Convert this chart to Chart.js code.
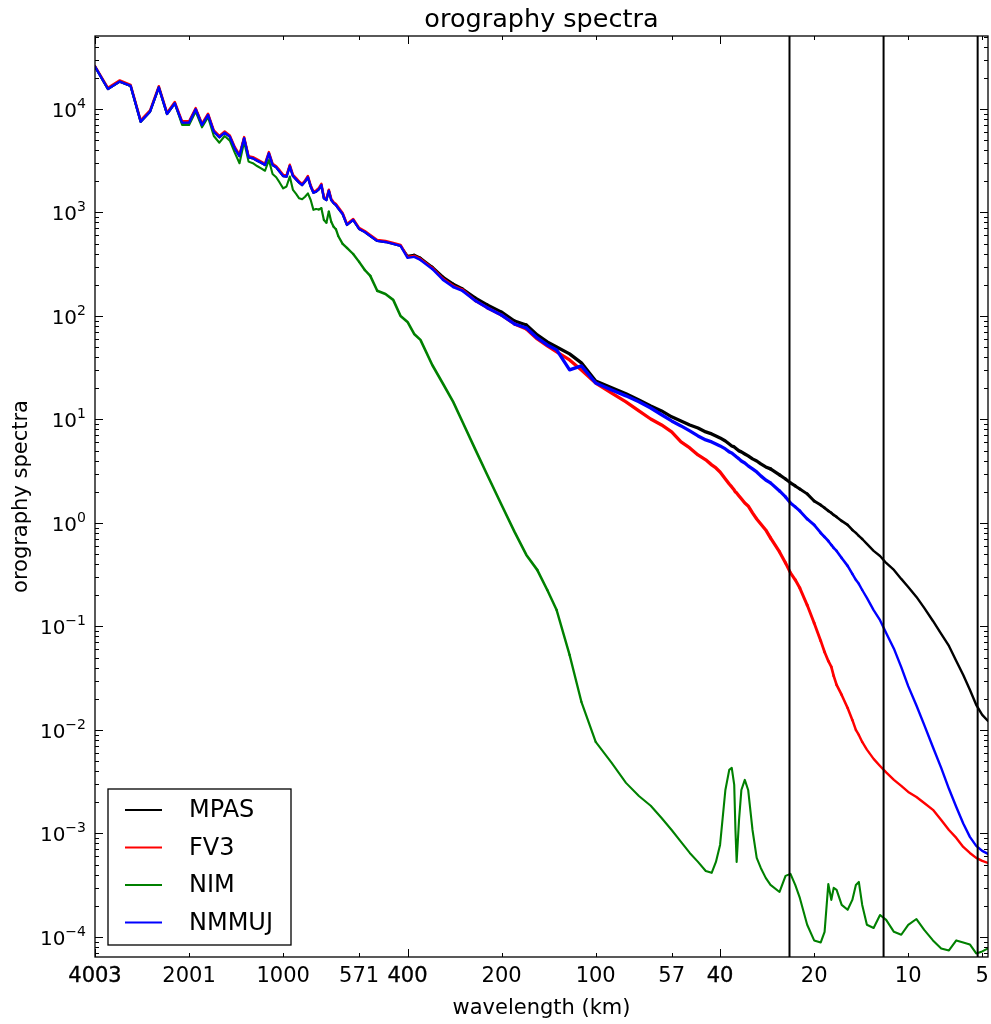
<!DOCTYPE html>
<html>
<head>
<meta charset="utf-8">
<script src="https://cdn.jsdelivr.net/npm/chart.js@4.4.0/dist/chart.umd.min.js"></script>
<style>html,body{margin:0;padding:0;background:#fff;}#c{display:block;}</style>
</head>
<body>
<canvas id="c" width="991" height="1024"></canvas>
<script>
const EARTH_CIRCUMFERENCE_KM = 40030;

const wavenumbers = [
  10,11,12,13,14,15,16,17,18,19,20,21,22,23,24,25,26,27,28,29,30,31,32,33,34,35,36,37,38,39,40,
  41,42,43,44,45,46,47,48,49,50,51,52,53,54,55,56,57,58,59,60,
  62,64,67,70,73,76,80,85,90,95,100,105,110,120,130,140,150,165,180,200,220,240,260,280,300,330,360,
  400,450,500,550,600,650,700,750,800,850,900,940,970,1000,1040,1070,1090,1110,1120,1130,1150,1170,
  1200,1230,1270,1310,1350,1400,1450,1550,1620,1680,1740,1800,1900,2000,2100,2160,2220,2270,2310,
  2360,2450,2560,2650,2720,2780,2850,2950,3100,3250,3400,3600,3800,4000,4250,4500,4800,5100,5400,
  5700,6000,6300,6600,6900,7200
];

const mpas = [
  25600,15600,18400,16700,7540,9420,16200,8950,11350,7380,7380,9940,7000,8750,6040,5330,5900,5400,4170,3510,5210,
  3410,3340,3170,3030,2880,3730,2880,2730,2480,2250,2220,2810,2250,2090,1940,1840,1990,2190,1780,1550,
  1590,1670,1840,1370,1320,1620,1320,1230,1180,1100,
  967,758,847,693,648,593,531,519,497,475,380,389,364,298,238,204,183,149,128,109,89.5,81.9,65.6,56.1,50.2,43.0,35.2,
  23.5,20.2,17.7,15.4,13.5,12.1,10.6,9.67,8.85,8.28,7.58,7.25,6.93,6.63,6.20,5.80,5.55,5.43,5.31,5.19,4.97,4.86,
  4.64,4.44,4.16,3.97,3.72,3.48,3.33,2.91,2.66,2.44,2.28,2.13,1.91,1.63,1.49,1.40,1.31,1.25,1.195,
  1.143,1.046,0.957,0.856,0.801,0.749,0.700,0.627,0.537,0.480,0.411,0.352,0.288,0.241,0.193,0.151,0.113,0.0847,0.0648,
  0.0464,0.0340,0.0244,0.0175,0.0140,0.0122
];

const fv3 = [
  26000,16000,18900,17100,7750,9700,16600,9200,11700,7600,7600,10200,7200,9000,6200,5500,6050,5550,4300,3600,5350,
  3500,3430,3260,3110,2960,3830,2960,2800,2550,2310,2280,2890,2310,2150,1990,1890,2040,2250,1830,1590,
  1630,1720,1890,1410,1360,1660,1360,1260,1210,1130,
  989,775,866,709,663,607,543,531,508,486,372,380,356,291,228,195,179,140,120,102,83.7,74.9,60.0,51.4,44.9,37.6,30.1,
  22.5,18.0,14.8,12.1,10.1,8.85,7.58,6.07,5.31,4.54,4.07,3.64,3.40,3.11,2.66,2.38,2.23,2.08,1.99,1.95,1.825,1.71,
  1.56,1.46,1.25,1.093,0.978,0.856,0.717,0.525,0.411,0.329,0.282,0.235,0.161,0.108,0.0725,0.0567,0.0464,0.0407,0.0333,
  0.0272,0.0218,0.0163,0.0125,0.0100,0.00895,0.00766,0.00645,0.00525,0.00449,0.00389,0.00329,0.00288,0.00252,0.00225,0.00197,0.00169,0.00135,0.00108,
  9.05e-4,7.41e-4,6.48e-4,5.80e-4,5.43e-4,5.19e-4
];

const nim = [
  25600,15600,18400,16700,7540,9420,16200,8950,11350,7000,7000,9420,6650,8320,5480,4720,5480,4940,3790,2990,4830,
  3100,2990,2810,2670,2530,3210,2350,2190,1940,1710,1780,2220,1650,1510,1370,1340,1420,1530,1320,1060,
  1080,1070,1100,847,797,1020,815,729,689,593,
  497,454,397,333,278,244,175,163,143,100,87.6,67.0,58.7,33.6,22.0,14.8,9.46,5.08,2.91,1.49,0.819,0.491,0.352,0.225,0.144,0.0531,0.0187,
  0.00766,0.00480,0.00308,0.00230,0.00185,0.00141,0.00108,8.28e-4,6.48e-4,5.31e-4,4.34e-4,4.16e-4,5.31e-4,7.75e-4,0.00263,0.00411,0.00430,0.00294,0.00108,5.31e-4,0.00135,0.00263,
  0.00329,0.00263,0.00108,5.80e-4,4.64e-4,3.72e-4,3.18e-4,2.72e-4,3.89e-4,4.07e-4,3.18e-4,2.38e-4,1.31e-4,9.26e-5,8.85e-5,1.118e-4,3.25e-4,2.28e-4,2.98e-4,
  2.85e-4,2.04e-4,1.83e-4,2.28e-4,3.18e-4,3.40e-4,2.04e-4,1.31e-4,1.22e-4,1.63e-4,1.46e-4,1.12e-4,1.05e-4,1.31e-4,1.49e-4,1.17e-4,9.26e-5,7.75e-5,7.41e-5,
  9.26e-5,8.85e-5,8.47e-5,6.93e-5,7.25e-5,7.75e-5
];

const nmmuj = [
  25600,15600,18400,16700,7540,9420,16200,8950,11350,7380,7380,9940,7000,8750,6040,5330,5900,5400,4170,3510,5210,
  3410,3340,3170,3030,2880,3730,2880,2730,2480,2250,2220,2810,2250,2090,1940,1840,1990,2190,1780,1550,
  1590,1670,1840,1370,1320,1620,1320,1230,1180,1100,
  967,758,847,693,648,593,531,519,497,475,364,372,348,285,223,191,175,140,120,102,83.7,76.6,61.3,52.5,47.0,30.1,32.9,
  22.5,19.3,16.9,14.8,12.9,11.1,9.67,8.66,7.75,6.93,6.34,6.07,5.80,5.55,5.19,4.86,4.75,4.54,4.44,4.34,4.16,3.97,
  3.80,3.56,3.33,3.11,2.85,2.60,2.44,2.04,1.785,1.56,1.43,1.306,1.093,0.957,0.801,0.733,0.670,0.613,0.574,
  0.537,0.459,0.385,0.322,0.282,0.258,0.225,0.189,0.144,0.115,0.0866,0.061,0.0405,0.0265,0.0172,0.0112,0.0068,0.0043,0.00270,
  0.00180,0.00125,9.26e-4,7.58e-4,6.78e-4,6.34e-4
];

const seriesNames = ['MPAS', 'FV3', 'NIM', 'NMMUJ'];
const seriesColors = ['#000000', '#ff0000', '#008000', '#0000ff'];
const xTickWavenumbers = [10, 20, 40, 70, 100, 200, 400, 700, 1000, 2000, 4000, 6900];
const xTickLabels = ['4003', '2001', '1000', '571', '400', '200', '100', '57', '40', '20', '10', '5'];
const yTickExponents = [-4, -3, -2, -1, 0, 1, 2, 3, 4];
const cutoffWavelengthsKm = [24, 12, 6];
const X_MIN = 10, X_MAX = 7200, Y_MIN = 6.4e-5, Y_MAX = 5.07e4;

const FONT = '"DejaVu Sans", "Liberation Sans", sans-serif';
const seriesValues = [mpas, fv3, nim, nmmuj];

// line thickness that grows gently where the spectra are noisy (style only)
function noisyWidth(k, isNim) {
  const lk = Math.log10(k);
  if (isNim) {
    const up = Math.min(Math.max((lk - 1.7) / 0.2, 0), 1);
    const down = Math.min(Math.max((2.6 - lk) / 0.2, 0), 1);
    return 2.1 + 0.5 * Math.min(up, down);
  }
  const up = Math.min(Math.max((lk - 2.0) / 0.35, 0), 1);
  const down = Math.min(Math.max((3.45 - lk) / 0.3, 0), 1);
  return 2.4 + 0.9 * Math.min(up, down);
}

const datasets = seriesValues.map((vals, i) => ({
  label: seriesNames[i],
  data: wavenumbers.map((k, j) => ({ x: k, y: vals[j] })),
  borderColor: seriesColors[i],
  backgroundColor: seriesColors[i],
  borderWidth: i === 2 ? 2.1 : 2.4,
  borderJoinStyle: 'round',
  borderCapStyle: 'round',
  pointRadius: 0,
  tension: 0,
  fill: false,
  order: 4 - i,
  segment: { borderWidth: c => noisyWidth(c.p0.parsed.x, i === 2) }
}));

cutoffWavelengthsKm.forEach(km => {
  const k = EARTH_CIRCUMFERENCE_KM / km;
  datasets.push({
    label: 'cutoff ' + km,
    data: [{ x: k, y: Y_MIN }, { x: k, y: Y_MAX }],
    borderColor: '#000', borderWidth: 2, pointRadius: 0, order: 0, fill: false
  });
});

const decor = {
  id: 'decor',
  afterDraw(chart) {
    const { ctx, chartArea: a, scales: { x, y } } = chart;
    ctx.save();
    ctx.strokeStyle = '#000';
    ctx.lineWidth = 1.3;
    ctx.strokeRect(a.left, a.top, a.right - a.left, a.bottom - a.top);
    ctx.lineWidth = 1;
    xTickWavenumbers.forEach(k => {
      const px = Math.round(x.getPixelForValue(k)) + 0.5;
      const major = Math.abs(Math.log10(k) - Math.round(Math.log10(k))) < 1e-9;
      const len = major ? 8 : 4;
      ctx.beginPath();
      ctx.moveTo(px, a.bottom); ctx.lineTo(px, a.bottom - len);
      ctx.moveTo(px, a.top); ctx.lineTo(px, a.top + len);
      ctx.stroke();
    });
    for (let e = -5; e <= 5; e++) {
      for (let m = 1; m <= 9; m++) {
        const v = m * Math.pow(10, e);
        if (v < Y_MIN || v > Y_MAX) continue;
        const py = Math.round(y.getPixelForValue(v)) + 0.5;
        const len = m === 1 ? 8 : 4;
        ctx.beginPath();
        ctx.moveTo(a.left, py); ctx.lineTo(a.left + len, py);
        ctx.moveTo(a.right, py); ctx.lineTo(a.right - len, py);
        ctx.stroke();
      }
    }
    ctx.fillStyle = '#000';
    ctx.textAlign = 'left';
    ctx.textBaseline = 'alphabetic';
    yTickExponents.forEach(e => {
      const py = y.getPixelForValue(Math.pow(10, e));
      const base = '10';
      const exp = String(e).replace('-', '\u2212');
      ctx.font = '20px ' + FONT;
      const wb = ctx.measureText(base).width;
      ctx.font = '14px ' + FONT;
      const we = ctx.measureText(exp).width;
      const left = a.left - 9 - wb - we;
      ctx.font = '20px ' + FONT;
      ctx.fillText(base, left, py + 8);
      ctx.font = '14px ' + FONT;
      ctx.fillText(exp, left + wb, py - 1);
    });
    ctx.textAlign = 'center';
    ctx.font = '25.5px ' + FONT;
    ctx.fillText('orography spectra', (a.left + a.right) / 2, 27);
    ctx.font = '21px ' + FONT;
    ctx.fillText('wavelength (km)', (a.left + a.right) / 2, 1014);
    ctx.save();
    ctx.translate(27, (a.top + a.bottom) / 2);
    ctx.rotate(-Math.PI / 2);
    ctx.fillText('orography spectra', 0, 0);
    ctx.restore();
    const lw = 183, lh = 156;
    const lx = a.left + 13, ly = a.bottom - 12 - lh;
    ctx.fillStyle = '#fff';
    ctx.fillRect(lx, ly, lw, lh);
    ctx.strokeStyle = '#000';
    ctx.lineWidth = 1.3;
    ctx.strokeRect(lx, ly, lw, lh);
    ctx.font = '24px ' + FONT;
    ctx.textAlign = 'left';
    ctx.textBaseline = 'middle';
    seriesNames.forEach((n, i) => {
      const cy = ly + 21 + i * 37.5;
      ctx.strokeStyle = seriesColors[i];
      ctx.lineWidth = 2;
      ctx.beginPath();
      ctx.moveTo(lx + 17, cy); ctx.lineTo(lx + 54, cy);
      ctx.stroke();
      ctx.fillStyle = '#000';
      ctx.fillText(n, lx + 81, cy + 1);
    });
    ctx.restore();
  }
};

new Chart(document.getElementById('c'), {
  type: 'line',
  data: { datasets },
  options: {
    responsive: false,
    animation: false,
    devicePixelRatio: 1,
    layout: { padding: { top: 36, right: 3, left: 0, bottom: 0 } },
    plugins: { legend: { display: false }, tooltip: { enabled: false }, title: { display: false } },
    scales: {
      x: {
        type: 'logarithmic', min: X_MIN, max: X_MAX,
        afterBuildTicks: s => { s.ticks = xTickWavenumbers.map(v => ({ value: v })); },
        afterFit: s => { s.height = 67; s.paddingLeft = 0; s.paddingRight = 0; },
        grid: { display: false, drawTicks: false, tickLength: 0 },
        border: { display: false },
        ticks: {
          autoSkip: false, maxRotation: 0, minRotation: 0, padding: 7,
          color: '#000', font: { family: FONT, size: 21 },
          textStrokeColor: '#000',
          textStrokeWidth: c => ([0, 4, 8].includes(c.index) ? 0.35 : 0),
          callback: (v, i) => xTickLabels[i]
        }
      },
      y: {
        type: 'logarithmic', min: Y_MIN, max: Y_MAX,
        afterFit: s => { s.width = 95; s.paddingTop = 0; s.paddingBottom = 0; },
        grid: { display: false, drawTicks: false },
        border: { display: false },
        ticks: { display: false }
      }
    }
  },
  plugins: [decor]
});
</script>
</body>
</html>
